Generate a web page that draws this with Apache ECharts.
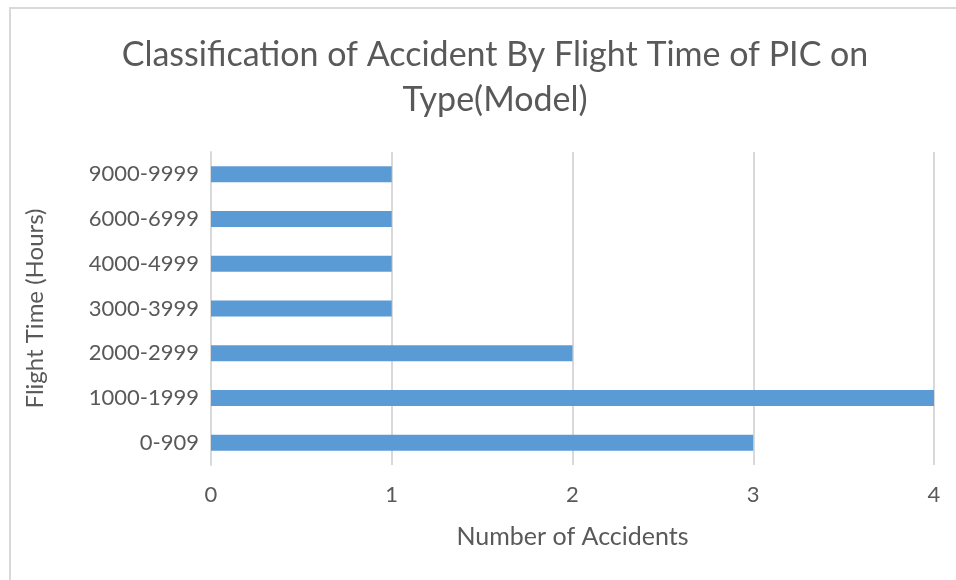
<!DOCTYPE html>
<html>
<head>
<meta charset="utf-8">
<script src="https://cdn.jsdelivr.net/npm/echarts@6/dist/echarts.min.js"></script>
<style>
  html, body { margin: 0; padding: 0; background: #fff; overflow: hidden; }
  .frame {
    position: absolute; left: 9px; top: 7px; width: 980px; height: 600px;
    border: 2px solid #d9d9d9; box-sizing: border-box;
  }
  #chart { position: absolute; left: 0; top: 0; width: 956px; height: 580px; }
</style>
</head>
<body>
<div class="frame"></div>
<div id="chart"></div>
<script>
const categories = ['0-909', '1000-1999', '2000-2999', '3000-3999', '4000-4999', '6000-6999', '9000-9999']
const accidents = [3, 4, 2, 1, 1, 1, 1]
const xTicks = [0, 1, 2, 3, 4]

const font = 'Lato, "Open Sans", sans-serif'
const textColor = '#595959'
const lineColor = '#d9d9d9'

const chart = echarts.init(document.getElementById('chart'), null, { renderer: 'canvas' })

chart.setOption({
  backgroundColor: 'transparent',
  animation: false,
  title: {
    text: 'Classification of Accident By Flight Time of PIC on\nType(Model)',
    left: 490,
    textAlign: 'center',
    top: 28,
    textStyle: {
      color: textColor,
      fontFamily: font,
      fontSize: 34,
      fontWeight: 'normal',
      lineHeight: 45
    }
  },
  grid: {
    left: 211,
    right: 22,
    top: 152,
    bottom: 115,
    containLabel: false
  },
  xAxis: {
    type: 'value',
    min: xTicks[0],
    max: xTicks[xTicks.length - 1],
    interval: 1,
    name: 'Number of Accidents',
    nameLocation: 'middle',
    nameGap: 59,
    nameTextStyle: { color: textColor, fontFamily: font, fontSize: 25 },
    axisLine: { show: false },
    axisTick: { show: false },
    axisLabel: { color: textColor, fontFamily: font, fontSize: 22, margin: 19 },
    splitLine: { show: true, lineStyle: { color: lineColor, width: 2 } }
  },
  yAxis: {
    type: 'category',
    data: categories,
    name: 'Flight Time (Hours)',
    nameLocation: 'middle',
    nameGap: 164,
    nameRotate: 90,
    nameTextStyle: { color: textColor, fontFamily: font, fontSize: 24 },
    axisLine: { show: true, lineStyle: { color: lineColor, width: 2 } },
    axisTick: { show: false },
    axisLabel: { color: textColor, fontFamily: font, fontSize: 22, margin: 12 }
  },
  series: [{
    type: 'bar',
    data: accidents,
    barWidth: 16,
    itemStyle: { color: '#5b9bd5' }
  }]
})
</script>
</body>
</html>
